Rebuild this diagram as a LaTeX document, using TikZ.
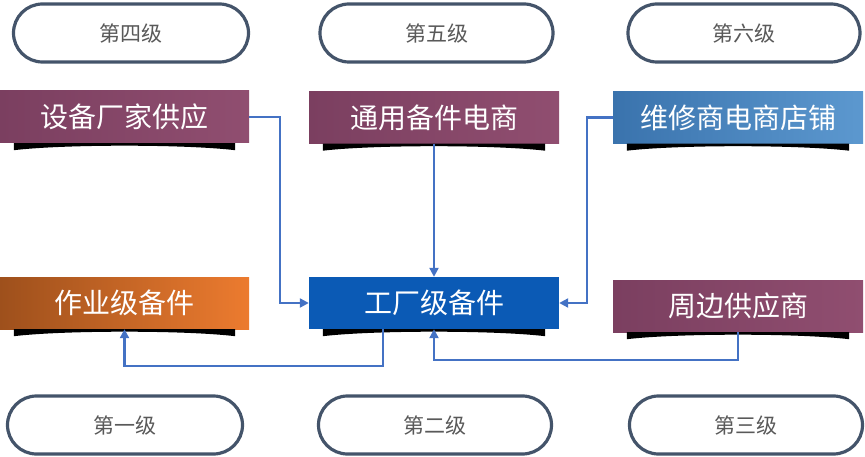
\documentclass[tikz,border=0pt]{standalone}
\usepackage{fontspec}
\setmainfont{Noto Sans CJK SC}
\usetikzlibrary{arrows.meta,calc}
\definecolor{mauveL}{HTML}{7B3F60}
\definecolor{mauveR}{HTML}{904E70}
\definecolor{blueL}{HTML}{3A73AD}
\definecolor{blueR}{HTML}{5C98CF}
\definecolor{deepblue}{HTML}{0B5AB5}
\definecolor{orangeL}{HTML}{9E501C}
\definecolor{orangeR}{HTML}{EC7B2F}
\definecolor{pillline}{HTML}{44546A}
\definecolor{pilltext}{HTML}{595959}
\definecolor{connc}{HTML}{4472C4}
\tikzset{
  pill/.style={draw=pillline, line width=3.2pt, fill=white, rounded corners=29pt,
    minimum width=233pt, minimum height=58pt, inner sep=0pt,
    text=pilltext, font=\fontsize{21pt}{23pt}\selectfont},
  box/.style={minimum width=250pt, minimum height=52pt, inner sep=0pt,
    text=white, font=\fontsize{28pt}{30pt}\selectfont},
  mauvebox/.style={box, left color=mauveL, right color=mauveR},
  bluebox/.style={box, left color=blueL, right color=blueR},
  orangebox/.style={box, left color=orangeL, right color=orangeR},
  solidbox/.style={box, fill=deepblue},
  conn/.style={draw=connc, line width=2.2pt, -{Triangle[length=9pt,width=9pt]}},
}
\newcommand{\ribbon}[1]{%
  \fill[black] ($(#1.south west)+(14,0)$) -- ($(#1.south east)+(-14,0)$)
    -- ($(#1.south east)+(-14,7)$)
    .. controls ($(#1.south)+(60,1)$) and ($(#1.south)+(-60,1)$) ..
    ($(#1.south west)+(14,7)$) -- cycle;}
\begin{document}
\begin{tikzpicture}[x=1pt,y=-1pt]
\useasboundingbox (0,0) rectangle (865,457);
% level pills
\node[pill, minimum width=235pt] (p4) at (131,33) {第四级};
\node[pill] (p5) at (436.5,33) {第五级};
\node[pill, minimum width=232pt] (p6) at (744,33) {第六级};
\node[pill, minimum width=235pt] (p1) at (125,425) {第一级};
\node[pill] (p2) at (435,425) {第二级};
\node[pill, minimum width=233pt] (p3) at (746,425) {第三级};
% boxes
\node[mauvebox, minimum width=249pt] (b1) at (124.5,117) {设备厂家供应};
\node[mauvebox] (b2) at (434,117.5) {通用备件电商};
\node[bluebox] (b3) at (738,117.5) {维修商电商店铺};
\node[orangebox, minimum width=249pt] (b4) at (124.5,303) {作业级备件};
\node[solidbox] (b5) at (434,303) {工厂级备件};
\node[mauvebox] (b6) at (738,306) {周边供应商};
\ribbon{b1}\ribbon{b2}\ribbon{b3}\ribbon{b4}\ribbon{b5}\ribbon{b6}
% connectors
\draw[conn] (b1.east) -- ++(31,0) |- (b5.west);
\draw[conn] (b2.south) -- (b5.north);
\draw[conn] (b3.west) -- ++(-26,0) |- (b5.east);
\draw[conn] ($(b5.south)+(-51,0)$) -- ++(0,37) -| (b4.south);
\draw[conn] (b6.south) -- ++(0,28) -| (b5.south);
\end{tikzpicture}
\end{document}
